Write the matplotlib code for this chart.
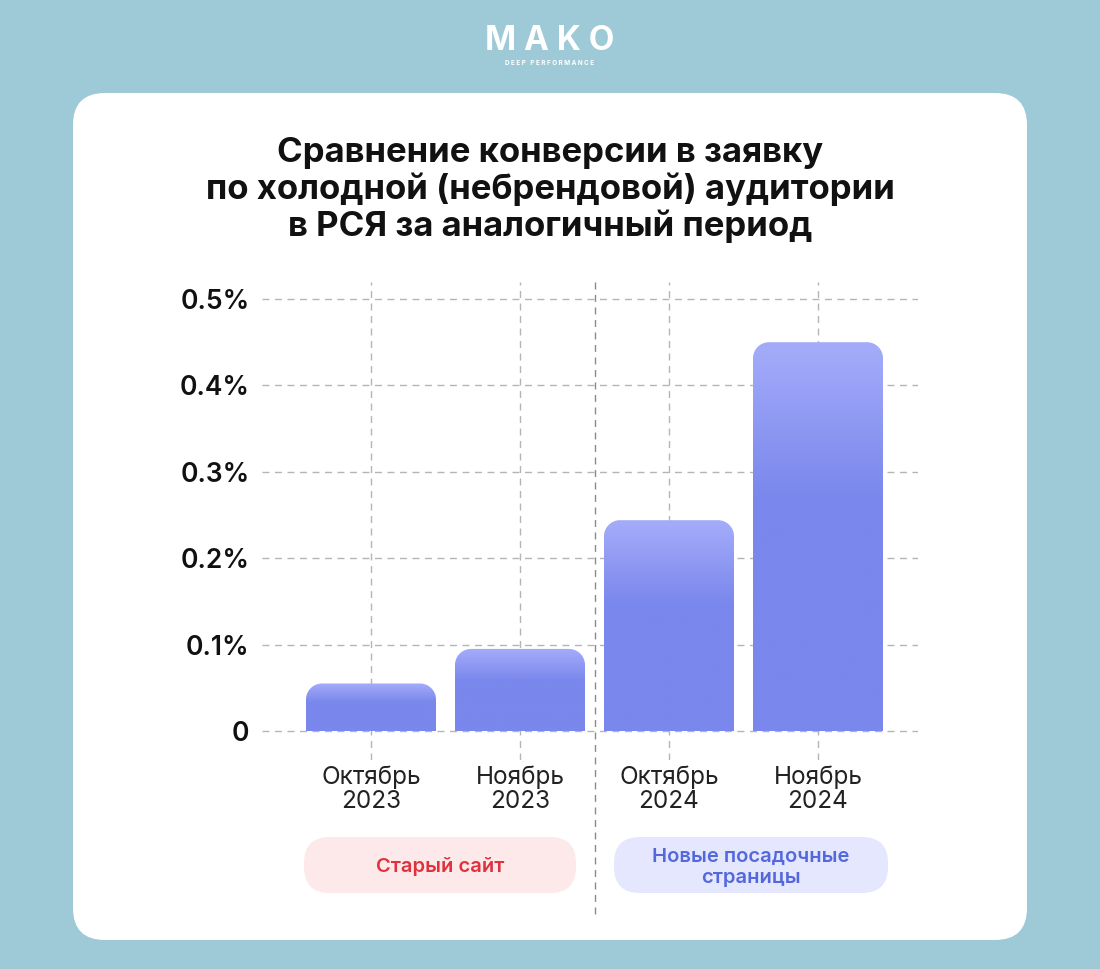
import numpy as np
import matplotlib
matplotlib.use('Agg')
import matplotlib.pyplot as plt
from matplotlib.patches import FancyBboxPatch, PathPatch
from matplotlib.path import Path
from matplotlib.colors import LinearSegmentedColormap

plt.rcParams['font.family'] = ['Inter', 'DejaVu Sans']

# data (conversion, %)
months = ['Октябрь\n2023', 'Ноябрь\n2023', 'Октябрь\n2024', 'Ноябрь\n2024']
values = [0.055, 0.095, 0.244, 0.450]
y_ticks = [0, 0.1, 0.2, 0.3, 0.4, 0.5]
y_labels = ['0', '0.1%', '0.2%', '0.3%', '0.4%', '0.5%']
groups = ['Старый сайт', 'Новые посадочные\nстраницы']
title = ('Сравнение конверсии в заявку\n'
         'по холодной (небрендовой) аудитории\n'
         'в РСЯ за аналогичный период')

W, H = 1100, 969
fig = plt.figure(figsize=(W / 100, H / 100), dpi=100)
fig.patch.set_facecolor('#9ecad8')

# background layer in pixel coords
bg = fig.add_axes([0, 0, 1, 1])
bg.set_xlim(0, W)
bg.set_ylim(H, 0)
bg.axis('off')

bg.add_patch(FancyBboxPatch((73, 93), 954, 847, boxstyle='round,pad=0,rounding_size=32',
                            fc='white', ec='none'))
bg.text(550, 41, 'M A K O', ha='center', va='center', color='white', fontsize=24,
        fontweight='bold')
bg.text(550, 63, 'D E E P   P E R F O R M A N C E', ha='center', va='center',
        color='white', fontsize=4.6, fontweight='bold')
bg.text(550, 190, title, ha='center', va='center', fontsize=25, fontweight='bold',
        color='#111111', linespacing=1.12)

# group pills
pill_x = [(304, 576), (614, 888)]
pill_fc = ['#fde8ea', '#e4e7fd']
pill_tc = ['#e0313c', '#5468dc']
for (x0, x1), fc, tc, lab in zip(pill_x, pill_fc, pill_tc, groups):
    bg.add_patch(FancyBboxPatch((x0, 837), x1 - x0, 56,
                                boxstyle='round,pad=0,rounding_size=26', fc=fc, ec='none'))
    bg.text((x0 + x1) / 2, 867, lab, ha='center', va='center', color=tc, fontsize=14.5,
            fontweight='semibold', linespacing=1.3)

# chart axes: x 262..918 px, y 282..760 px
px_unit_x = 149.0
px_unit_y = 864.0  # pixels per 1.0 (%)
x_left = -(371 - 262) / px_unit_x
x_right = 3 + (918 - 818) / px_unit_x
y_top = 0.5 + (299 - 282) / px_unit_y
y_bot = -(760 - 731) / px_unit_y

ax = fig.add_axes([262 / W, 1 - 760 / H, (918 - 262) / W, (760 - 282) / H])
ax.set_xlim(x_left, x_right)
ax.set_ylim(y_bot, y_top)
ax.patch.set_alpha(0)
for s in ax.spines.values():
    s.set_visible(False)

x = np.arange(len(values))
grid_kw = dict(color='#b5b5b5', lw=1, ls=(0, (5, 4)), zorder=0)
for t in y_ticks:
    ax.axhline(t, **grid_kw)
for xi in x:
    ax.axvline(xi, **grid_kw)
ax.plot([1.5, 1.5], [y_top, -(915 - 731) / px_unit_y], color='#8a8a8a', lw=1,
        ls=(0, (5, 4)), clip_on=False, zorder=0)

ax.set_yticks(y_ticks)
ax.set_yticklabels(y_labels, fontsize=19, fontweight='semibold', color='#111111')
ax.set_xticks(x)
ax.set_xticklabels(months, fontsize=17.5, color='#222222', linespacing=1.05)
ax.tick_params(axis='both', length=0)
ax.tick_params(axis='y', pad=9)
ax.tick_params(axis='x', pad=4)

# bars with rounded tops and vertical gradient
bw = 130 / px_unit_x
bars = ax.bar(x, values, width=bw, color='none', zorder=2)
cmap = LinearSegmentedColormap.from_list('bar', ['#7a87ec', '#7a87ec', '#a4acfa'])
rx = 16 / px_unit_x
ry = 16 / px_unit_y
k = 0.5523
for b in bars:
    x0, w, h = b.get_x(), b.get_width(), b.get_height()
    x1 = x0 + w
    verts = [(x0, 0), (x0, h - ry),
             (x0, h - ry + k * ry), (x0 + rx - k * rx, h), (x0 + rx, h),
             (x1 - rx, h),
             (x1 - rx + k * rx, h), (x1, h - ry + k * ry), (x1, h - ry),
             (x1, 0), (x0, 0)]
    codes = [Path.MOVETO, Path.LINETO,
             Path.CURVE4, Path.CURVE4, Path.CURVE4,
             Path.LINETO,
             Path.CURVE4, Path.CURVE4, Path.CURVE4,
             Path.LINETO, Path.CLOSEPOLY]
    patch = PathPatch(Path(verts, codes), fc='none', ec='none')
    ax.add_patch(patch)
    grad = np.linspace(0, 1, 200).reshape(-1, 1)
    grad = np.clip((grad - 0.6) / 0.4, 0, 1) * 0.5 + 0.5
    grad[grad <= 0.5] = 0.0
    im = ax.imshow(grad, extent=(x0, x1, 0, h), origin='lower', aspect='auto',
                   cmap=cmap, vmin=0, vmax=1, zorder=2)
    im.set_clip_path(patch)

ax.set_xlim(x_left, x_right)
ax.set_ylim(y_bot, y_top)

fig.savefig('out.png', dpi=100, facecolor=fig.get_facecolor())
